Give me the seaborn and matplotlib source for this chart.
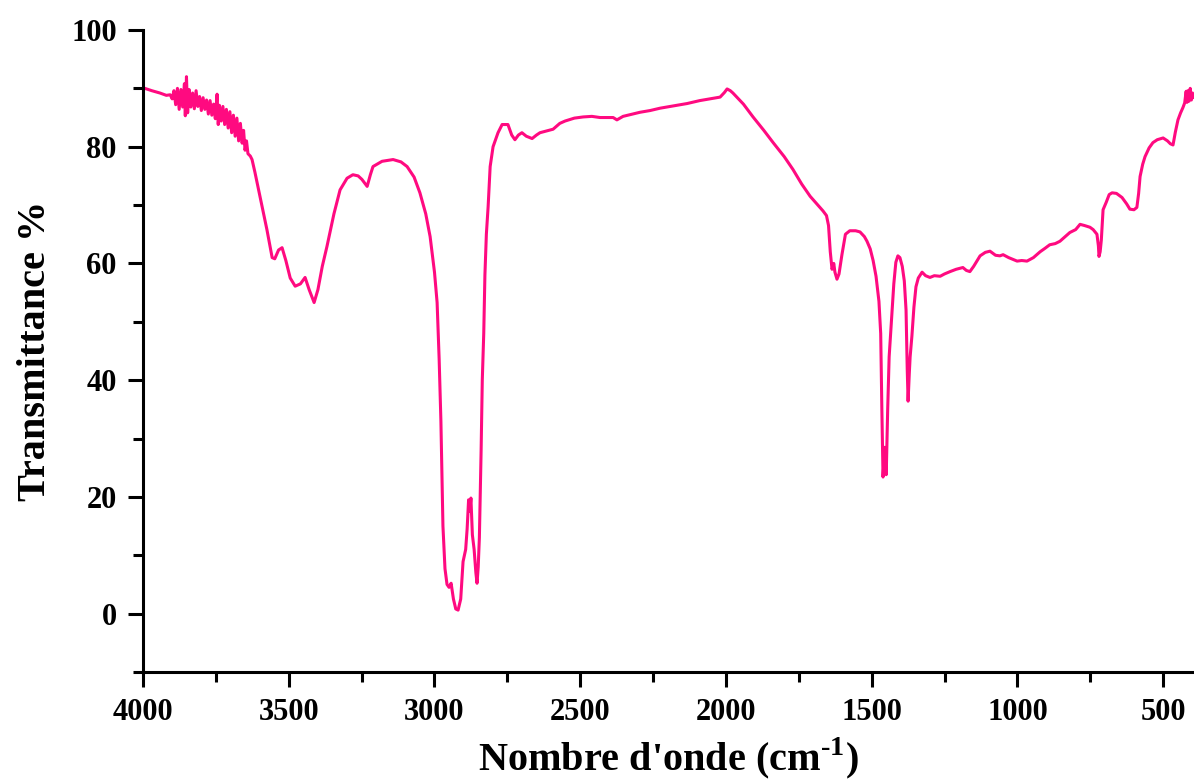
import matplotlib
matplotlib.use("Agg")
import matplotlib.pyplot as plt
from matplotlib.ticker import MultipleLocator
import seaborn as sns
import pandas as pd

# wavenumber (cm-1) and transmittance (%)
wavenumber = [
    4000, 3970, 3942, 3920, 3907,
    3900, 3894, 3888, 3882, 3876, 3870, 3864, 3858, 3855, 3851, 3847, 3842,
    3836, 3830, 3824, 3818, 3812, 3806, 3800, 3794, 3788, 3782, 3776, 3770,
    3764, 3758, 3752, 3746, 3742, 3738, 3732, 3726, 3720, 3714, 3708, 3702,
    3696, 3690, 3684, 3678, 3672, 3666, 3660, 3655, 3650, 3645, 3640, 3632,
    3626, 3616, 3599, 3575, 3557, 3548, 3535, 3523, 3510, 3495, 3478, 3460,
    3444, 3430, 3413, 3400, 3385, 3369, 3345, 3324, 3300, 3280, 3262, 3249,
    3231, 3220, 3211, 3180, 3142, 3115, 3094, 3070, 3050, 3030, 3015, 3000,
    2991, 2984, 2978, 2971, 2964, 2957, 2950, 2943, 2935, 2927, 2919, 2910,
    2902, 2893, 2888, 2883, 2879, 2875, 2870, 2864, 2858, 2854, 2850, 2846,
    2840, 2836, 2831, 2827, 2822, 2816, 2809, 2799, 2782, 2768, 2748, 2735,
    2724, 2712, 2700, 2685, 2665, 2650, 2638, 2615, 2593, 2570, 2552, 2520,
    2490, 2460, 2432, 2400, 2387, 2374, 2353, 2320, 2295, 2260, 2226, 2180,
    2133, 2090, 2044, 2020, 2005, 1996, 1985, 1976, 1940, 1907, 1870, 1838,
    1800, 1770, 1740, 1711, 1690, 1667, 1655, 1648, 1642, 1636, 1630, 1626,
    1619, 1612, 1602, 1590, 1575, 1555, 1540, 1525, 1516, 1505, 1495, 1485,
    1475, 1469, 1465, 1461, 1455, 1450, 1445, 1440, 1433, 1424, 1417, 1410,
    1403, 1395, 1388, 1382, 1378, 1375, 1371, 1368, 1362, 1355, 1348, 1340,
    1327, 1315, 1300, 1285, 1265, 1250, 1231, 1210, 1187, 1175, 1163, 1150,
    1128, 1110, 1094, 1075, 1060, 1049, 1030, 1001, 985, 967, 945, 922,
    905, 889, 870, 854, 838, 820, 800, 785, 770, 751, 740, 727,
    722, 720, 716, 712, 706, 695, 685, 675, 660, 641, 625, 614,
    600, 590, 584, 579, 570, 562, 548, 535, 520, 500, 485, 475,
    466, 458, 449, 440, 432, 426, 421, 418, 415, 411, 407, 403,
    399, 394,
]
transmittance = [
    90.1, 89.6, 89.2, 88.8, 88.9,
    88.2, 89.6, 87.2, 90.0, 86.4, 89.8, 86.8, 90.8, 85.3, 92.0, 85.8, 89.8,
    86.8, 89.2, 86.5, 89.6, 86.9, 88.6, 86.2, 88.4, 86.4, 88.0, 85.6, 87.9,
    85.4, 87.3, 84.8, 89.0, 83.8, 87.1, 84.4, 86.9, 83.8, 86.4, 83.2, 86.0,
    82.4, 85.4, 81.8, 84.9, 81.0, 84.0, 80.6, 82.8, 79.4, 81.0, 78.8, 78.4,
    77.8, 75.6, 71.5, 65.8, 61.0, 60.8, 62.3, 62.7, 60.5, 57.5, 56.1, 56.5,
    57.6, 55.5, 53.3, 55.5, 59.5, 62.9, 68.5, 72.6, 74.6, 75.2, 75.0, 74.4,
    73.2, 75.2, 76.6, 77.5, 77.8, 77.4, 76.6, 74.8, 72.1, 68.5, 64.6, 58.5,
    53.3, 43.6, 33.0, 15.0, 7.7, 5.0, 4.5, 5.2, 2.5, 0.8, 0.6, 2.5,
    8.9, 11.0, 14.5, 19.5, 17.5, 19.8, 13.5, 11.0, 7.0, 5.2, 8.0, 13.0,
    28.0, 40.0, 48.0, 58.0, 65.0, 69.7, 76.6, 80.0, 82.4, 83.8, 83.8, 82.0,
    81.2, 82.0, 82.4, 81.8, 81.4, 82.0, 82.4, 82.7, 83.0, 84.0, 84.4, 84.9,
    85.1, 85.2, 85.0, 85.0, 85.0, 84.6, 85.2, 85.6, 85.9, 86.2, 86.6, 87.0,
    87.4, 87.9, 88.3, 88.5, 89.3, 89.9, 89.6, 89.2, 87.3, 85.1, 82.8, 80.7,
    78.3, 76.1, 73.6, 71.5, 70.3, 69.0, 68.2, 66.5, 62.0, 59.0, 60.0, 58.5,
    57.3, 58.2, 61.5, 65.0, 65.6, 65.6, 65.4, 64.6, 63.8, 62.5, 60.5, 57.8,
    53.5, 48.0, 35.0, 23.4, 28.5, 23.8, 35.0, 44.0, 49.5, 56.5, 60.2, 61.3,
    61.0, 59.5, 57.0, 52.0, 42.0, 36.4, 41.0, 44.0, 47.5, 52.5, 56.0, 57.5,
    58.5, 57.9, 57.6, 57.9, 57.8, 58.2, 58.6, 59.0, 59.3, 58.8, 58.6, 59.5,
    61.3, 61.9, 62.1, 61.4, 61.3, 61.5, 61.0, 60.4, 60.5, 60.4, 61.0, 62.0,
    62.6, 63.2, 63.4, 63.8, 64.5, 65.3, 65.8, 66.7, 66.5, 66.2, 65.8, 65.0,
    63.0, 61.2, 62.0, 64.0, 69.2, 70.5, 71.8, 72.1, 72.0, 71.3, 70.2, 69.3,
    69.2, 69.6, 72.0, 74.9, 77.0, 78.3, 79.8, 80.7, 81.2, 81.5, 81.0, 80.5,
    80.3, 82.5, 84.6, 85.8, 86.7, 87.5, 89.5, 87.6, 89.6, 87.8, 90.0, 88.0,
    89.2, 88.4,
]

df = pd.DataFrame({"wn": wavenumber, "T": transmittance})

sns.set_theme(style="ticks")
plt.rcParams["font.family"] = ["Liberation Serif", "DejaVu Serif"]
plt.rcParams["font.weight"] = "bold"
plt.rcParams["mathtext.fontset"] = "custom"
plt.rcParams["mathtext.rm"] = "Liberation Serif:bold"
plt.rcParams["mathtext.bf"] = "Liberation Serif:bold"

fig = plt.figure(figsize=(11.94, 7.83), dpi=100)
ax = fig.add_axes([0.1198, 0.1418, 0.8802, 0.8199])

sns.lineplot(data=df, x="wn", y="T", sort=False, estimator=None,
             color="#ff0a80", linewidth=2.2, ax=ax)

ax.set_xlim(4000, 394)
ax.set_ylim(-10, 100)
ax.xaxis.set_major_locator(MultipleLocator(500))
ax.xaxis.set_minor_locator(MultipleLocator(250))
ax.yaxis.set_major_locator(MultipleLocator(20))
ax.yaxis.set_minor_locator(MultipleLocator(10))

for s in ["top", "right"]:
    ax.spines[s].set_visible(False)
for s in ["left", "bottom"]:
    ax.spines[s].set_linewidth(2.2)
    ax.spines[s].set_color("black")

ax.tick_params(which="major", length=11, width=2.2, color="black",
               labelsize=22, labelcolor="black")
ax.tick_params(which="minor", length=7, width=2.2, color="black")
ax.tick_params(axis="x", which="major", pad=8)
ax.tick_params(axis="y", which="major", pad=8)
for lab in ax.get_xticklabels() + ax.get_yticklabels():
    lab.set_fontweight("bold")

ax.set_xlabel("Nombre d'onde (cm$^{\\text{-}1}$)", fontsize=29,
              fontweight="bold", color="black", labelpad=6)
ax.set_ylabel("Transmittance %", fontsize=29, fontweight="bold",
              color="black", labelpad=12)

fig.savefig("out.png", dpi=100)
